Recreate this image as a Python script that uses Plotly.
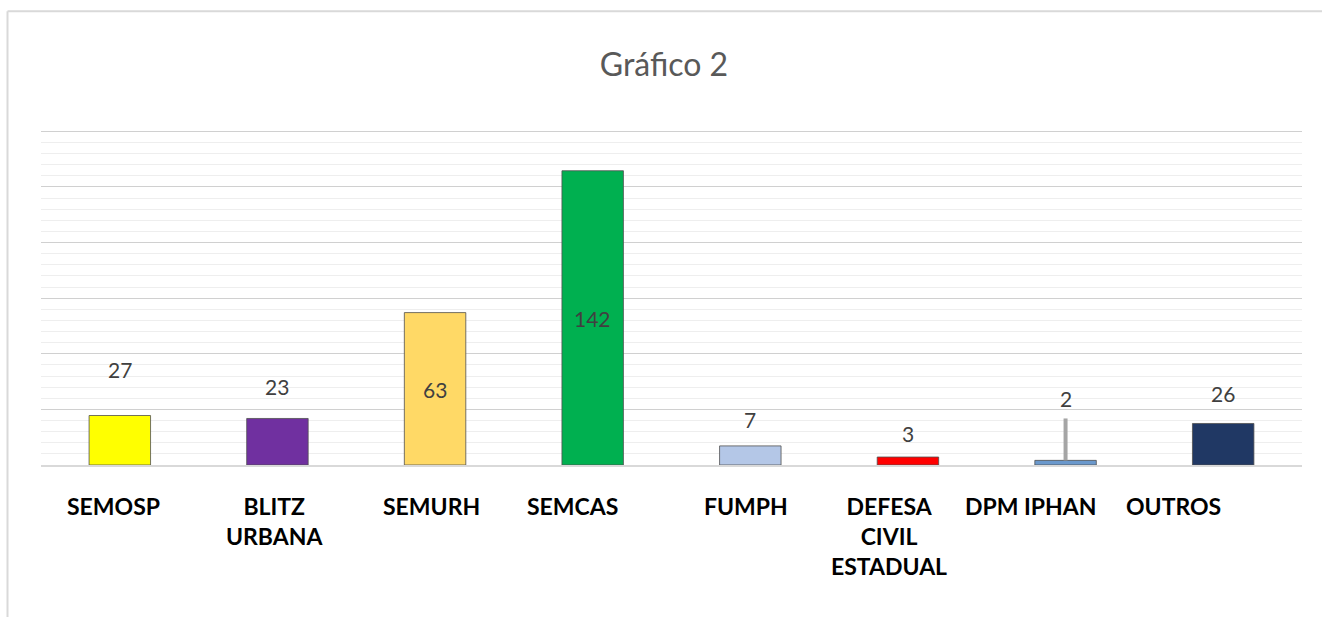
import plotly.graph_objects as go

# ---------------- data ----------------
categories = ["SEMOSP", "BLITZ<br>URBANA", "SEMURH", "SEMCAS", "FUMPH",
              "DEFESA<br>CIVIL<br>ESTADUAL", "DPM IPHAN", "OUTROS"]
bar_values = [26.7, 25.1, 82.2, 158.7, 10.3, 4.3, 2.5, 22.4]   # bar heights as drawn
label_values = [27, 23, 63, 142, 7, 3, 2, 26]                  # printed data labels
error_plus = [0, 0, 0, 0, 0, 0, 22.6, 0]
bar_colors = ["#FFFF00", "#7030A0", "#FFD966", "#00B050", "#B4C7E7",
              "#FF0000", "#6A98CC", "#203864"]

# ---------------- style / placement ----------------
LABEL_Y = [51.7, 42.3, 40.9, 79.2, 24.5, 16.9, 36.0, 38.4]   # data-label centres (axis units)
CAT_XSHIFT = [-6, -3, -4, -20, -4, -19, -35, -50]            # category-label nudges (px)
FONT = "Lato"
Y_MAX = 185

# plot-area geometry (px): 180 units span 333 px
L, R, B = 41, 1302, 464.7
T = B - 333.0 * Y_MAX / 180

fig = go.Figure()
fig.add_trace(go.Bar(
    x=list(range(len(categories))),
    y=bar_values,
    marker=dict(color=bar_colors, line=dict(color="rgba(80,80,80,0.8)", width=1)),
    error_y=dict(type="data", symmetric=False, array=error_plus,
                 arrayminus=[0] * len(error_plus), color="#A5A5A5",
                 thickness=4, width=0),
    hoverinfo="skip",
))

annotations = []
for i, (v, ly) in enumerate(zip(label_values, LABEL_Y)):
    annotations.append(dict(x=i, y=ly, xref="x", yref="y", text=str(v),
                            showarrow=False, yanchor="middle",
                            font=dict(family=FONT, size=21, color="#404040")))
for i, (c, dx) in enumerate(zip(categories, CAT_XSHIFT)):
    annotations.append(dict(x=i, y=0, xref="x", yref="y", text="<b>" + c + "</b>",
                            showarrow=False, yanchor="top", xanchor="center",
                            yshift=-25, xshift=dx, align="center",
                            font=dict(family=FONT, size=23, color="#000000")))

def px(xp):
    return (xp - L) / (R - L)
def py(yp):
    return (B - yp) / (B - T)

# outer chart border (left and top edges)
shapes = [
    dict(type="line", xref="paper", yref="paper", x0=px(7.5), x1=px(7.5),
         y0=py(12), y1=py(640), line=dict(color="#D9D9D9", width=2)),
    dict(type="line", xref="paper", yref="paper", x0=px(7.5), x1=px(1340),
         y0=py(12), y1=py(12), line=dict(color="#D9D9D9", width=2)),
]

fig.update_layout(
    width=1322, height=617,
    margin=dict(l=L, r=1322 - R, t=T, b=617 - B, pad=0),
    paper_bgcolor="white", plot_bgcolor="white",
    showlegend=False,
    bargap=0.61,
    title=dict(text="Gráfico 2", x=664 / 1322, xanchor="center",
               y=1 - 65 / 617, yanchor="middle",
               font=dict(family=FONT, size=32, color="#595959")),
    xaxis=dict(range=[-0.5, len(categories) - 0.5], showticklabels=False,
               showgrid=False, zeroline=False, showline=True,
               linecolor="#D9D9D9", linewidth=1.5, ticks=""),
    yaxis=dict(range=[0, Y_MAX], dtick=30, showticklabels=False, ticks="",
               showgrid=True, gridcolor="#D0D0D0", gridwidth=1.3,
               zeroline=False, showline=False,
               minor=dict(dtick=6, showgrid=True, gridcolor="#EEEEEE", gridwidth=1.3)),
    annotations=annotations,
    shapes=shapes,
)

fig.write_html("out.html", config={"displayModeBar": False},
               post_script="document.body.style.margin='0px';document.body.style.padding='0px';")
